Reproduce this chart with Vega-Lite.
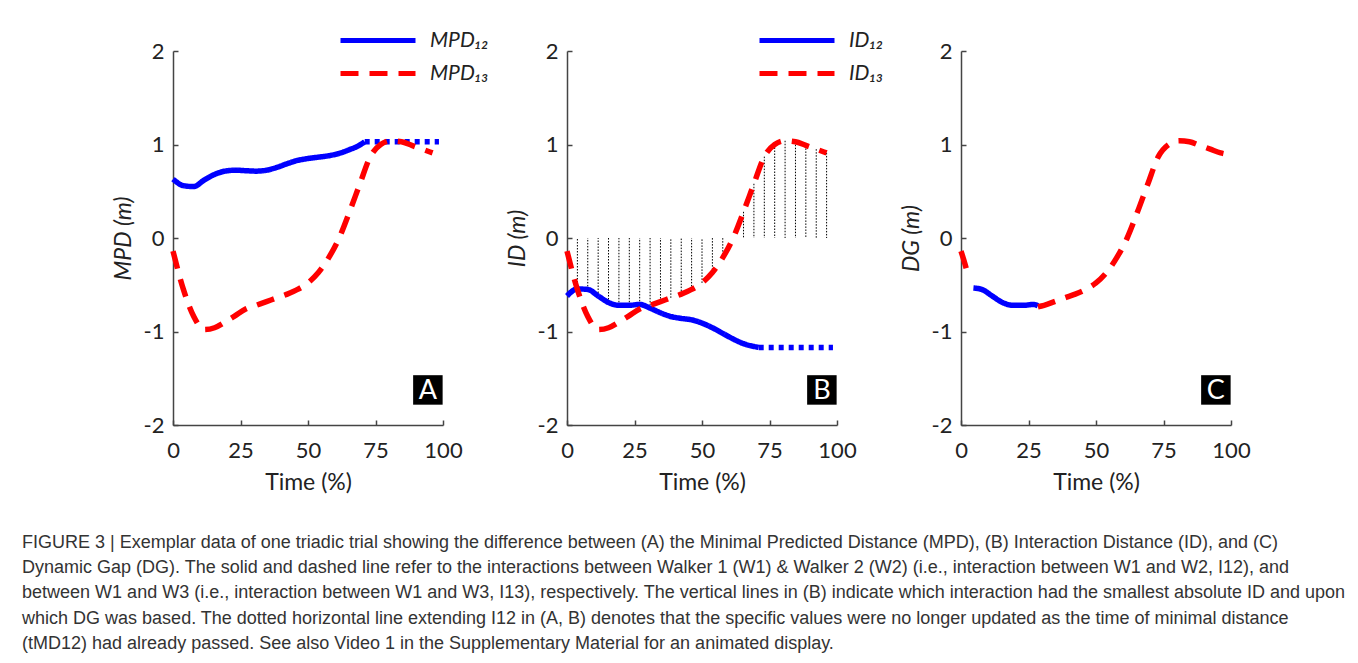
{
  "$schema": "https://vega.github.io/schema/vega-lite/v6.json",
  "autosize": "pad",
  "padding": {"left": 22, "top": 28, "right": 5, "bottom": 5},
  "background": "white",
  "config": {
    "view": {"stroke": null},
    "axis": {"domainColor": "#444", "domainWidth": 1.5, "tickColor": "#444", "tickWidth": 1.5, "tickSize": -5, "labelFont": "Lato", "labelFontSize": 22, "labelColor": "#222", "titleFont": "Lato", "titleFontSize": 23, "titleFontWeight": "normal", "titleColor": "#222", "grid": false, "labelFlush": false, "labelOverlap": false},
    "legend": {"orient": "none", "title": null, "symbolType": "stroke", "symbolSize": 5625, "symbolStrokeWidth": 5, "labelFont": "Lato", "labelFontSize": 21, "labelFontStyle": "italic", "labelColor": "#222", "clipHeight": 25, "rowPadding": 8, "labelOffset": 12}
  },
  "title": {
    "text": [
      "FIGURE 3 | Exemplar data of one triadic trial showing the difference between (A) the Minimal Predicted Distance (MPD), (B) Interaction Distance (ID), and (C)",
      "Dynamic Gap (DG). The solid and dashed line refer to the interactions between Walker 1 (W1) & Walker 2 (W2) (i.e., interaction between W1 and W2, I12), and",
      "between W1 and W3 (i.e., interaction between W1 and W3, I13), respectively. The vertical lines in (B) indicate which interaction had the smallest absolute ID and upon",
      "which DG was based. The dotted horizontal line extending I12 in (A, B) denotes that the specific values were no longer updated as the time of minimal distance",
      "(tMD12) had already passed. See also Video 1 in the Supplementary Material for an animated display."
    ],
    "orient": "bottom", "anchor": "start", "frame": "bounds", "font": "Liberation Sans", "fontSize": 18, "fontWeight": "normal", "color": "#333", "lineHeight": 25.2, "offset": 40, "dx": -90
  },
  "hconcat": [
    {
      "width": 270, "height": 374,
      "layer": [
        {"mark": {"type": "rule", "color": "#444", "strokeWidth": 1.5}, "encoding": {"y": {"datum": 0, "type": "quantitative"}}},
        {
          "data": {"values": [{"t": 71, "v": 1.03}, {"t": 98.5, "v": 1.03}]},
          "mark": {"type": "line", "color": "#0000ff", "strokeWidth": 5.5, "strokeDash": [5, 5]},
          "encoding": {"x": {"field": "t", "type": "quantitative"}, "y": {"field": "v", "type": "quantitative"}}
        },
        {
          "data": {"values": [
            {"s": "MPD₁₂", "t": 0, "v": 0.63}, {"s": "MPD₁₂", "t": 3.85, "v": 0.56}, {"s": "MPD₁₂", "t": 7.69, "v": 0.55}, {"s": "MPD₁₂", "t": 11.54, "v": 0.62},
            {"s": "MPD₁₂", "t": 15.38, "v": 0.68}, {"s": "MPD₁₂", "t": 19.23, "v": 0.715}, {"s": "MPD₁₂", "t": 23.08, "v": 0.725}, {"s": "MPD₁₂", "t": 26.92, "v": 0.72},
            {"s": "MPD₁₂", "t": 30.77, "v": 0.715}, {"s": "MPD₁₂", "t": 34.62, "v": 0.725}, {"s": "MPD₁₂", "t": 38.46, "v": 0.755}, {"s": "MPD₁₂", "t": 42.31, "v": 0.795},
            {"s": "MPD₁₂", "t": 46.15, "v": 0.83}, {"s": "MPD₁₂", "t": 50, "v": 0.85}, {"s": "MPD₁₂", "t": 53.85, "v": 0.865}, {"s": "MPD₁₂", "t": 57.69, "v": 0.88},
            {"s": "MPD₁₂", "t": 61.54, "v": 0.905}, {"s": "MPD₁₂", "t": 65.38, "v": 0.945}, {"s": "MPD₁₂", "t": 69.23, "v": 0.995}, {"s": "MPD₁₂", "t": 71, "v": 1.03},
            {"s": "MPD₁₃", "t": 0, "v": -0.14}, {"s": "MPD₁₃", "t": 3.85, "v": -0.55}, {"s": "MPD₁₃", "t": 7.69, "v": -0.84}, {"s": "MPD₁₃", "t": 11.54, "v": -0.98}, {"s": "MPD₁₃", "t": 15.38, "v": -0.96},
            {"s": "MPD₁₃", "t": 19.23, "v": -0.9}, {"s": "MPD₁₃", "t": 23.08, "v": -0.83}, {"s": "MPD₁₃", "t": 26.92, "v": -0.76}, {"s": "MPD₁₃", "t": 30.77, "v": -0.72}, {"s": "MPD₁₃", "t": 34.62, "v": -0.68},
            {"s": "MPD₁₃", "t": 38.46, "v": -0.64}, {"s": "MPD₁₃", "t": 42.31, "v": -0.6}, {"s": "MPD₁₃", "t": 46.15, "v": -0.55}, {"s": "MPD₁₃", "t": 50, "v": -0.48}, {"s": "MPD₁₃", "t": 53.85, "v": -0.37},
            {"s": "MPD₁₃", "t": 57.69, "v": -0.21}, {"s": "MPD₁₃", "t": 61.54, "v": 0.0}, {"s": "MPD₁₃", "t": 65.38, "v": 0.28}, {"s": "MPD₁₃", "t": 69.23, "v": 0.58}, {"s": "MPD₁₃", "t": 73.08, "v": 0.87},
            {"s": "MPD₁₃", "t": 76.92, "v": 1.0}, {"s": "MPD₁₃", "t": 80.77, "v": 1.04}, {"s": "MPD₁₃", "t": 84.62, "v": 1.03}, {"s": "MPD₁₃", "t": 88.46, "v": 0.99}, {"s": "MPD₁₃", "t": 92.31, "v": 0.95}, {"s": "MPD₁₃", "t": 96.15, "v": 0.91}
          ]},
          "mark": {"type": "line", "strokeWidth": 5.5, "interpolate": "monotone"},
          "encoding": {
            "x": {"field": "t", "type": "quantitative", "scale": {"domain": [0, 100], "nice": false, "zero": false}, "axis": {"values": [0, 25, 50, 75, 100], "title": "Time (%)", "labelPadding": 20, "titlePadding": 10}},
            "y": {"field": "v", "type": "quantitative", "scale": {"domain": [-2, 2], "nice": false}, "axis": {"values": [-2, -1, 0, 1, 2], "title": "MPD (m)", "titleFontStyle": "italic", "labelPadding": 14, "titlePadding": 8, "labelExpr": "datum.value < 0 ? '-' + (-datum.value) : '' + datum.value"}},
            "color": {"field": "s", "type": "nominal", "scale": {"domain": ["MPD₁₂", "MPD₁₃"], "range": ["#0000ff", "#ff0000"]}, "legend": {"legendX": 165, "legendY": -23}},
            "strokeDash": {"field": "s", "type": "nominal", "scale": {"domain": ["MPD₁₂", "MPD₁₃"], "range": [[1, 0], [18, 11]]}, "legend": {"legendX": 165, "legendY": -23}}
          }
        },
        {
          "data": {"values": [{"t": 94.4, "v": -1.625, "lab": "A"}]},
          "layer": [
            {"mark": {"type": "point", "shape": "square", "filled": true, "color": "#000", "opacity": 1, "size": 870}},
            {"mark": {"type": "text", "color": "#fff", "font": "Lato", "fontSize": 27, "baseline": "middle", "align": "center", "dy": 1}, "encoding": {"text": {"field": "lab"}}}
          ],
          "encoding": {"x": {"field": "t", "type": "quantitative"}, "y": {"field": "v", "type": "quantitative"}}
        }
      ]
    },
    {
      "width": 270, "height": 374,
      "layer": [
        {"mark": {"type": "rule", "color": "#444", "strokeWidth": 1.5}, "encoding": {"y": {"datum": 0, "type": "quantitative"}}},
        {
          "data": {"values": [
            {"t": 3.85, "v": -0.54}, {"t": 7.69, "v": -0.55}, {"t": 11.54, "v": -0.62}, {"t": 15.38, "v": -0.69}, {"t": 19.23, "v": -0.72},
            {"t": 23.08, "v": -0.72}, {"t": 26.92, "v": -0.71}, {"t": 30.77, "v": -0.72}, {"t": 34.62, "v": -0.68}, {"t": 38.46, "v": -0.64},
            {"t": 42.31, "v": -0.6}, {"t": 46.15, "v": -0.55}, {"t": 50, "v": -0.48}, {"t": 53.85, "v": -0.37}, {"t": 57.69, "v": -0.21},
            {"t": 61.54, "v": 0.0}, {"t": 65.38, "v": 0.28}, {"t": 69.23, "v": 0.58}, {"t": 73.08, "v": 0.87}, {"t": 76.92, "v": 1.0},
            {"t": 80.77, "v": 1.04}, {"t": 84.62, "v": 1.03}, {"t": 88.46, "v": 0.99}, {"t": 92.31, "v": 0.95}, {"t": 96.15, "v": 0.91}
          ]},
          "mark": {"type": "rule", "color": "#000", "strokeWidth": 1, "strokeDash": [1.5, 1.5]},
          "encoding": {"x": {"field": "t", "type": "quantitative"}, "y": {"field": "v", "type": "quantitative"}, "y2": {"datum": 0}}
        },
        {
          "data": {"values": [{"t": 71, "v": -1.17}, {"t": 98.5, "v": -1.17}]},
          "mark": {"type": "line", "color": "#0000ff", "strokeWidth": 5.5, "strokeDash": [5, 5]},
          "encoding": {"x": {"field": "t", "type": "quantitative"}, "y": {"field": "v", "type": "quantitative"}}
        },
        {
          "data": {"values": [
            {"s": "ID₁₂", "t": 0, "v": -0.62}, {"s": "ID₁₂", "t": 3.85, "v": -0.545}, {"s": "ID₁₂", "t": 7.69, "v": -0.55}, {"s": "ID₁₂", "t": 11.54, "v": -0.62},
            {"s": "ID₁₂", "t": 15.38, "v": -0.69}, {"s": "ID₁₂", "t": 19.23, "v": -0.72}, {"s": "ID₁₂", "t": 23.08, "v": -0.72}, {"s": "ID₁₂", "t": 26.92, "v": -0.71},
            {"s": "ID₁₂", "t": 30.77, "v": -0.75}, {"s": "ID₁₂", "t": 34.62, "v": -0.8}, {"s": "ID₁₂", "t": 38.46, "v": -0.84}, {"s": "ID₁₂", "t": 42.31, "v": -0.86},
            {"s": "ID₁₂", "t": 46.15, "v": -0.875}, {"s": "ID₁₂", "t": 50, "v": -0.91}, {"s": "ID₁₂", "t": 53.85, "v": -0.96}, {"s": "ID₁₂", "t": 57.69, "v": -1.02},
            {"s": "ID₁₂", "t": 61.54, "v": -1.08}, {"s": "ID₁₂", "t": 65.38, "v": -1.13}, {"s": "ID₁₂", "t": 69.23, "v": -1.16}, {"s": "ID₁₂", "t": 71, "v": -1.17},
            {"s": "ID₁₃", "t": 0, "v": -0.14}, {"s": "ID₁₃", "t": 3.85, "v": -0.55}, {"s": "ID₁₃", "t": 7.69, "v": -0.84}, {"s": "ID₁₃", "t": 11.54, "v": -0.98}, {"s": "ID₁₃", "t": 15.38, "v": -0.96},
            {"s": "ID₁₃", "t": 19.23, "v": -0.9}, {"s": "ID₁₃", "t": 23.08, "v": -0.83}, {"s": "ID₁₃", "t": 26.92, "v": -0.76}, {"s": "ID₁₃", "t": 30.77, "v": -0.72}, {"s": "ID₁₃", "t": 34.62, "v": -0.68},
            {"s": "ID₁₃", "t": 38.46, "v": -0.64}, {"s": "ID₁₃", "t": 42.31, "v": -0.6}, {"s": "ID₁₃", "t": 46.15, "v": -0.55}, {"s": "ID₁₃", "t": 50, "v": -0.48}, {"s": "ID₁₃", "t": 53.85, "v": -0.37},
            {"s": "ID₁₃", "t": 57.69, "v": -0.21}, {"s": "ID₁₃", "t": 61.54, "v": 0.0}, {"s": "ID₁₃", "t": 65.38, "v": 0.28}, {"s": "ID₁₃", "t": 69.23, "v": 0.58}, {"s": "ID₁₃", "t": 73.08, "v": 0.87},
            {"s": "ID₁₃", "t": 76.92, "v": 1.0}, {"s": "ID₁₃", "t": 80.77, "v": 1.04}, {"s": "ID₁₃", "t": 84.62, "v": 1.03}, {"s": "ID₁₃", "t": 88.46, "v": 0.99}, {"s": "ID₁₃", "t": 92.31, "v": 0.95}, {"s": "ID₁₃", "t": 96.15, "v": 0.91}
          ]},
          "mark": {"type": "line", "strokeWidth": 5.5, "interpolate": "monotone"},
          "encoding": {
            "x": {"field": "t", "type": "quantitative", "scale": {"domain": [0, 100], "nice": false, "zero": false}, "axis": {"values": [0, 25, 50, 75, 100], "title": "Time (%)", "labelPadding": 20, "titlePadding": 10}},
            "y": {"field": "v", "type": "quantitative", "scale": {"domain": [-2, 2], "nice": false}, "axis": {"values": [-2, -1, 0, 1, 2], "title": "ID (m)", "titleFontStyle": "italic", "labelPadding": 14, "titlePadding": 8, "labelExpr": "datum.value < 0 ? '-' + (-datum.value) : '' + datum.value"}},
            "color": {"field": "s", "type": "nominal", "scale": {"domain": ["ID₁₂", "ID₁₃"], "range": ["#0000ff", "#ff0000"]}, "legend": {"legendX": 190, "legendY": -23}},
            "strokeDash": {"field": "s", "type": "nominal", "scale": {"domain": ["ID₁₂", "ID₁₃"], "range": [[1, 0], [18, 11]]}, "legend": {"legendX": 190, "legendY": -23}}
          }
        },
        {
          "data": {"values": [{"t": 94.4, "v": -1.625, "lab": "B"}]},
          "layer": [
            {"mark": {"type": "point", "shape": "square", "filled": true, "color": "#000", "opacity": 1, "size": 870}},
            {"mark": {"type": "text", "color": "#fff", "font": "Lato", "fontSize": 27, "baseline": "middle", "align": "center", "dy": 1}, "encoding": {"text": {"field": "lab"}}}
          ],
          "encoding": {"x": {"field": "t", "type": "quantitative"}, "y": {"field": "v", "type": "quantitative"}}
        }
      ]
    },
    {
      "width": 270, "height": 374,
      "layer": [
        {"mark": {"type": "rule", "color": "#444", "strokeWidth": 1.5}, "encoding": {"y": {"datum": 0, "type": "quantitative"}}},
        {
          "data": {"values": [
            {"g": "r1", "s": "I13", "t": 0, "v": -0.14}, {"g": "r1", "s": "I13", "t": 1.5, "v": -0.28}, {"g": "r1", "s": "I13", "t": 2.8, "v": -0.42},
            {"g": "b", "s": "I12", "t": 4.6, "v": -0.535}, {"g": "b", "s": "I12", "t": 7.69, "v": -0.55}, {"g": "b", "s": "I12", "t": 11.54, "v": -0.62}, {"g": "b", "s": "I12", "t": 15.38, "v": -0.69},
            {"g": "b", "s": "I12", "t": 19.23, "v": -0.72}, {"g": "b", "s": "I12", "t": 23.08, "v": -0.72}, {"g": "b", "s": "I12", "t": 26.92, "v": -0.71}, {"g": "b", "s": "I12", "t": 28.5, "v": -0.725},
            {"g": "r2", "s": "I13", "t": 28.5, "v": -0.735}, {"g": "r2", "s": "I13", "t": 30.77, "v": -0.72}, {"g": "r2", "s": "I13", "t": 34.62, "v": -0.68},
            {"g": "r2", "s": "I13", "t": 38.46, "v": -0.64}, {"g": "r2", "s": "I13", "t": 42.31, "v": -0.6}, {"g": "r2", "s": "I13", "t": 46.15, "v": -0.55}, {"g": "r2", "s": "I13", "t": 50, "v": -0.48}, {"g": "r2", "s": "I13", "t": 53.85, "v": -0.37},
            {"g": "r2", "s": "I13", "t": 57.69, "v": -0.21}, {"g": "r2", "s": "I13", "t": 61.54, "v": 0.0}, {"g": "r2", "s": "I13", "t": 65.38, "v": 0.28}, {"g": "r2", "s": "I13", "t": 69.23, "v": 0.58}, {"g": "r2", "s": "I13", "t": 73.08, "v": 0.87},
            {"g": "r2", "s": "I13", "t": 76.92, "v": 1.0}, {"g": "r2", "s": "I13", "t": 80.77, "v": 1.04}, {"g": "r2", "s": "I13", "t": 84.62, "v": 1.03}, {"g": "r2", "s": "I13", "t": 88.46, "v": 0.99}, {"g": "r2", "s": "I13", "t": 92.31, "v": 0.95}, {"g": "r2", "s": "I13", "t": 96.15, "v": 0.91}, {"g": "r2", "s": "I13", "t": 100, "v": 0.89}
          ]},
          "mark": {"type": "line", "strokeWidth": 5.5, "interpolate": "monotone"},
          "encoding": {
            "x": {"field": "t", "type": "quantitative", "scale": {"domain": [0, 100], "nice": false, "zero": false}, "axis": {"values": [0, 25, 50, 75, 100], "title": "Time (%)", "labelPadding": 20, "titlePadding": 10}},
            "y": {"field": "v", "type": "quantitative", "scale": {"domain": [-2, 2], "nice": false}, "axis": {"values": [-2, -1, 0, 1, 2], "title": "DG (m)", "titleFontStyle": "italic", "labelPadding": 14, "titlePadding": 8, "labelExpr": "datum.value < 0 ? '-' + (-datum.value) : '' + datum.value"}},
            "detail": {"field": "g"},
            "color": {"field": "s", "type": "nominal", "scale": {"domain": ["I12", "I13"], "range": ["#0000ff", "#ff0000"]}, "legend": null},
            "strokeDash": {"field": "s", "type": "nominal", "scale": {"domain": ["I12", "I13"], "range": [[1, 0], [18, 11]]}, "legend": null}
          }
        },
        {
          "data": {"values": [{"t": 94.4, "v": -1.625, "lab": "C"}]},
          "layer": [
            {"mark": {"type": "point", "shape": "square", "filled": true, "color": "#000", "opacity": 1, "size": 870}},
            {"mark": {"type": "text", "color": "#fff", "font": "Lato", "fontSize": 27, "baseline": "middle", "align": "center", "dy": 1}, "encoding": {"text": {"field": "lab"}}}
          ],
          "encoding": {"x": {"field": "t", "type": "quantitative"}, "y": {"field": "v", "type": "quantitative"}}
        }
      ]
    }
  ],
  "resolve": {"scale": {"color": "independent", "strokeDash": "independent"}, "legend": {"color": "independent", "strokeDash": "independent"}},
  "spacing": 124,
  "bounds": "flush"
}
